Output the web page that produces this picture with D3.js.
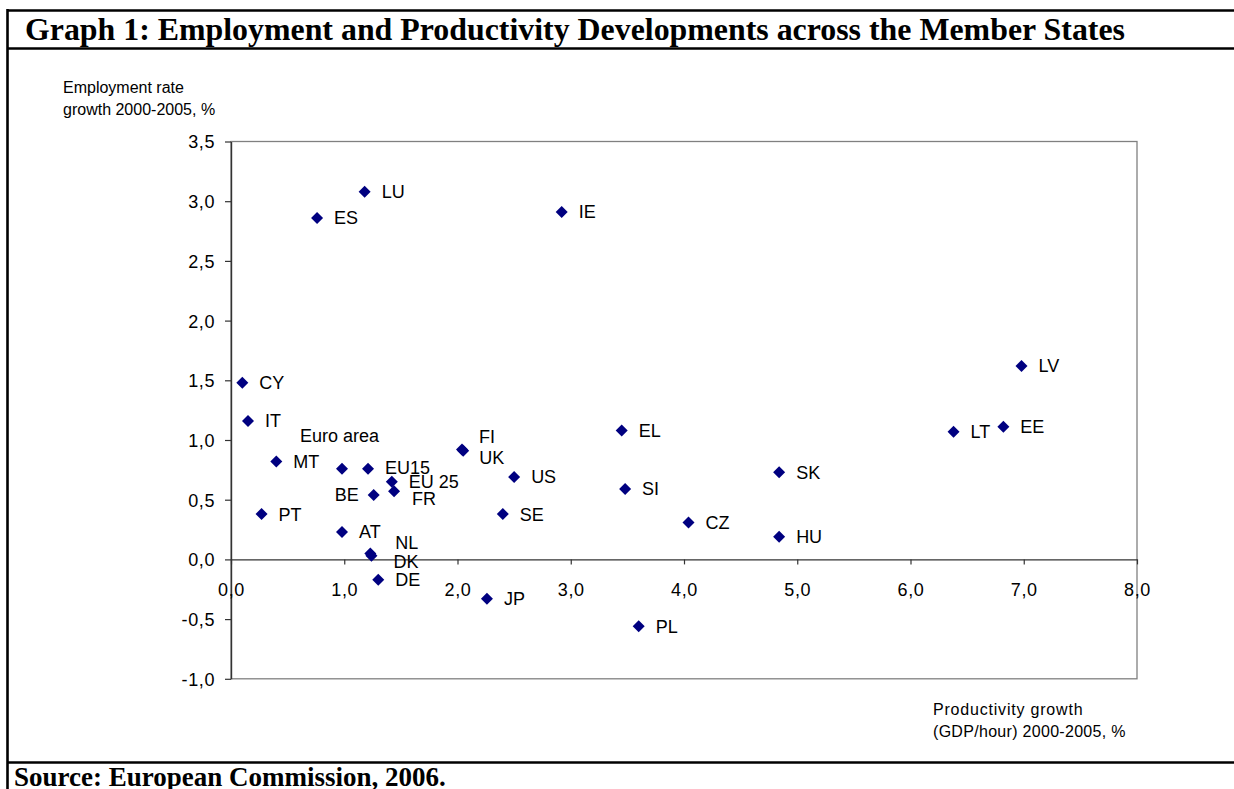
<!DOCTYPE html>
<html>
<head>
<meta charset="utf-8">
<script src="https://cdn.jsdelivr.net/npm/d3@7"></script>
<style>
  html, body { margin: 0; padding: 0; background: #fff; }
  svg { display: block; }
</style>
</head>
<body>
<svg id="chart" width="1234" height="789"></svg>
<script>
// ---- data ----
const countries = ["LU","ES","IE","CY","IT","MT","PT","Euro area","EU15","EU 25","FR","BE","AT","NL","DK","DE","FI","UK","US","SE","JP","EL","SI","CZ","SK","HU","PL","LV","LT","EE"];
const productivity = [1.18,0.76,2.92,0.10,0.15,0.40,0.27,0.98,1.21,1.42,1.44,1.26,0.98,1.23,1.24,1.30,2.04,2.05,2.50,2.40,2.26,3.45,3.48,4.04,4.84,4.84,3.60,6.98,6.38,6.82];
const employment = [3.08,2.86,2.91,1.48,1.16,0.82,0.38,0.76,0.76,0.65,0.57,0.54,0.23,0.05,0.03,-0.17,0.92,0.91,0.69,0.38,-0.33,1.08,0.59,0.31,0.73,0.19,-0.56,1.62,1.07,1.11];
const xTicks = [0,1,2,3,4,5,6,7,8];
const yTicks = [-1.0,-0.5,0.0,0.5,1.0,1.5,2.0,2.5,3.0,3.5];
const titleText = "Graph 1: Employment and Productivity Developments across the Member States";
const sourceText = "Source: European Commission, 2006.";
const yTitle = ["Employment rate", "growth 2000-2005, %"];
const xTitle = ["Productivity growth", "(GDP/hour) 2000-2005, %"];

// ---- label placement (layout only) ----
const labelNudge = {
  "Euro area": {dx: -42, dy: -33, anchor: "start"},
  "EU15": {dx: 17, dy: -1, anchor: "start"},
  "BE": {dx: -15, dy: 0, anchor: "end"},
  "FR": {dx: 18, dy: 7, anchor: "start"},
  "NL": {dx: 25, dy: -11, anchor: "start"},
  "DK": {dx: 22, dy: 6, anchor: "start"},
  "FI": {dx: 17, dy: -13, anchor: "start"},
  "UK": {dx: 16, dy: 7, anchor: "start"}
};

const svg = d3.select("#chart");
const sans = "'Liberation Sans', Arial, sans-serif";
const serif = "'Liberation Serif', 'Times New Roman', serif";

// ---- outer frame ----
const frame = svg.append("g").attr("stroke", "#000").attr("stroke-width", 2.6);
frame.append("line").attr("x1", 7.5).attr("x2", 1240).attr("y1", 10.5).attr("y2", 10.5);
frame.append("line").attr("x1", 7.5).attr("x2", 1240).attr("y1", 48.5).attr("y2", 48.5);
frame.append("line").attr("x1", 7.5).attr("x2", 1240).attr("y1", 762.5).attr("y2", 762.5);
frame.append("line").attr("x1", 7.5).attr("x2", 7.5).attr("y1", 9).attr("y2", 800);

const title = svg.append("text").attr("x", 25).attr("y", 40)
  .attr("font-family", serif).attr("font-weight", "bold").attr("font-size", 30)
  .text(titleText);
// fit the title to the width it takes in the reference (ends just left of the plot's right edge)
const tw = title.node().getComputedTextLength();
if (tw > 0) title.attr("font-size", Math.min(34, 30 * 1100 / tw));

svg.append("text").attr("x", 14).attr("y", 786)
  .attr("font-family", serif).attr("font-weight", "bold").attr("font-size", 27)
  .text(sourceText);

// ---- scales ----
const x = d3.scaleLinear().domain([0, 8]).range([231, 1137]);
const y = d3.scaleLinear().domain([-1, 3.5]).range([678.8, 141.5]);
const fmt = v => v.toFixed(1).replace(".", ",");

// plot border
svg.append("rect")
  .attr("x", x(0)).attr("y", y(3.5))
  .attr("width", x(8) - x(0)).attr("height", y(-1) - y(3.5))
  .attr("fill", "none").attr("stroke", "#808080").attr("stroke-width", 1.3);

// y axis
const gy = svg.append("g").attr("transform", `translate(${x(0)},0)`)
  .call(d3.axisLeft(y).tickValues(yTicks).tickFormat(fmt).tickSize(6).tickSizeOuter(0).tickPadding(10));
// x axis at zero
const gx = svg.append("g").attr("transform", `translate(0,${y(0)})`)
  .call(d3.axisBottom(x).tickValues(xTicks).tickFormat(fmt).tickSize(5).tickSizeOuter(0).tickPadding(19));

[gy, gx].forEach(g => {
  g.attr("font-family", sans).attr("font-size", 18);
  g.selectAll("path.domain").attr("stroke", "#333").attr("stroke-width", 1.4);
  g.selectAll(".tick line").attr("stroke", "#333").attr("stroke-width", 1.2);
  g.selectAll(".tick text").attr("fill", "#000").attr("letter-spacing", 0.6);
});
gy.selectAll(".tick text").attr("dy", "0.36em");

// axis titles
const yt = svg.append("text").attr("font-family", sans).attr("font-size", 16).attr("fill", "#000");
yTitle.forEach((t, i) => yt.append("tspan").attr("x", 63).attr("y", 93 + i * 22).text(t));
const xt = svg.append("text").attr("font-family", sans).attr("font-size", 16).attr("fill", "#000");
xTitle.forEach((t, i) => xt.append("tspan").attr("x", 933).attr("y", 715 + i * 22)
  .attr("letter-spacing", i === 0 ? 0.8 : 0.3).text(t));

// ---- points ----
const pts = countries.map((c, i) => ({name: c, px: productivity[i], em: employment[i]}));
const sym = d3.symbol().type(d3.symbolSquare).size(72);
svg.append("g").selectAll("path").data(pts).join("path")
  .attr("d", sym)
  .attr("transform", d => `translate(${x(d.px)},${y(d.em)}) rotate(45)`)
  .attr("fill", "#000080");

svg.append("g").attr("font-family", sans).attr("font-size", 18).attr("fill", "#000")
  .selectAll("text").data(pts).join("text")
  .attr("x", d => x(d.px) + (labelNudge[d.name] ? labelNudge[d.name].dx : 17))
  .attr("y", d => y(d.em) + (labelNudge[d.name] ? labelNudge[d.name].dy : 0))
  .attr("dy", "0.36em")
  .attr("text-anchor", d => labelNudge[d.name] ? labelNudge[d.name].anchor : "start")
  .text(d => d.name);
</script>
</body>
</html>
